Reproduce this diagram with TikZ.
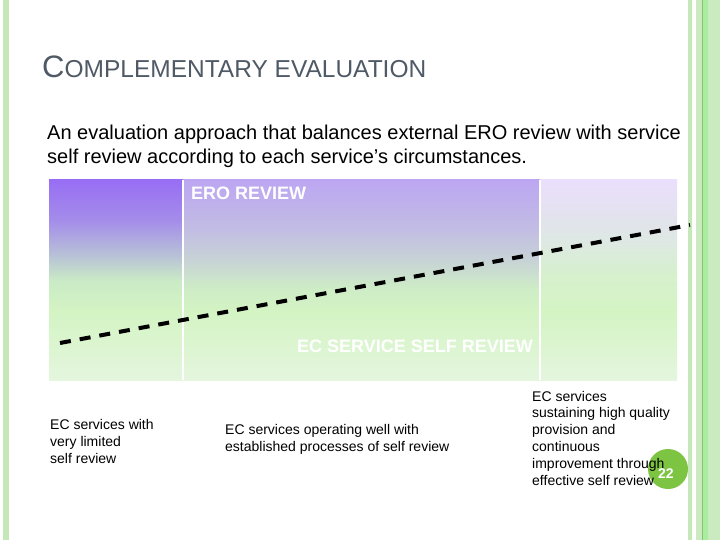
\documentclass[tikz,border=0pt]{standalone}
\usepackage{fontspec}
\setmainfont{Liberation Sans}
\usetikzlibrary{calc}
\definecolor{titlegray}{HTML}{4F5A66}
\definecolor{stripe}{HTML}{C6E8B8}
\definecolor{stripedark}{HTML}{8DC271}
\definecolor{pagegreen}{HTML}{7DC443}
\pgfdeclareverticalshading{colA}{100bp}{%
  color(0bp)=(rgb,255:red,228;green,246;blue,222); color(25bp)=(rgb,255:red,228;green,246;blue,222);
  color(42bp)=(rgb,255:red,212;green,244;blue,196); color(50bp)=(rgb,255:red,202;green,234;blue,198);
  color(56bp)=(rgb,255:red,184;green,194;blue,214); color(65bp)=(rgb,255:red,164;green,140;blue,234);
  color(75bp)=(rgb,255:red,152;green,110;blue,244); color(100bp)=(rgb,255:red,152;green,110;blue,244)}
\pgfdeclareverticalshading{colB}{100bp}{%
  color(0bp)=(rgb,255:red,228;green,246;blue,222); color(25bp)=(rgb,255:red,228;green,246;blue,222);
  color(42bp)=(rgb,255:red,212;green,244;blue,196); color(48bp)=(rgb,255:red,206;green,236;blue,198);
  color(54bp)=(rgb,255:red,200;green,214;blue,212); color(63bp)=(rgb,255:red,194;green,188;blue,228);
  color(75bp)=(rgb,255:red,188;green,166;blue,242); color(100bp)=(rgb,255:red,188;green,166;blue,242)}
\pgfdeclareverticalshading{colC}{100bp}{%
  color(0bp)=(rgb,255:red,228;green,246;blue,222); color(25bp)=(rgb,255:red,228;green,246;blue,222);
  color(42bp)=(rgb,255:red,212;green,244;blue,196); color(52bp)=(rgb,255:red,214;green,240;blue,206);
  color(60bp)=(rgb,255:red,222;green,232;blue,228); color(67bp)=(rgb,255:red,228;green,226;blue,240);
  color(75bp)=(rgb,255:red,234;green,223;blue,252); color(100bp)=(rgb,255:red,234;green,223;blue,252)}
\tikzset{
  bodytext/.style={anchor=base west, inner sep=0pt, align=left, font=\fontsize{20}{24}\selectfont},
  smalltext/.style={anchor=base west, inner sep=0pt, align=left, font=\fontsize{14}{16.8}\selectfont},
  chartlabel/.style={inner sep=0pt, text=white, font=\fontsize{18}{20}\selectfont\bfseries},
  divider/.style={white, line width=2pt},
  trend/.style={black, line width=4pt, dash pattern=on 11pt off 9pt},
}
\begin{document}
\begin{tikzpicture}[x=1pt,y=-1pt]
\useasboundingbox (0,0) rectangle (720,540);
\fill[white] (0,0) rectangle (720,540);
% decorative stripes
\fill[stripe] (3,0) rectangle (9,540);
\fill[stripe] (688,0) rectangle (692,540);
\fill[stripe!90!white] (696,0) rectangle (720,540);
\fill[stripe!80!green!90!white] (703,0) rectangle (708,540);
\draw[stripedark, line width=1pt] (702,0) -- (702,540);
% title
\node[anchor=base west, inner sep=0pt, text=titlegray] (title) at (42,78)
  {\fontsize{31}{32}\selectfont C\fontsize{24.5}{26}\selectfont OMPLEMENTARY EVALUATION};
% body text (base = last line)
\node[bodytext] (intro) at (47,164)
  {An evaluation approach that balances external ERO review with service\\self review according to each service's circumstances.};
% chart columns
\shade[shading=colA] (49,180) rectangle (183,380);
\shade[shading=colB] (183,180) rectangle (540,380);
\shade[shading=colC] (540,180) rectangle (677,380);
\draw[divider] (183,180) -- (183,380);
\draw[divider] (540,180) -- (540,380);
\node[chartlabel, anchor=base west] (ero) at (191,200) {ERO REVIEW};
\node[chartlabel, anchor=base east] (self) at (533,352) {EC SERVICE SELF REVIEW};
% trend line
\coordinate (tstart) at (60,343);
\coordinate (tend) at (690,225);
\draw[trend] (tstart) -- (tend);
% bottom labels (base = last line)
\node[smalltext] (lowlab) at (50,463) {EC services with\\very limited\\self review};
\node[smalltext] (midlab) at (225,451) {EC services operating well with\\established processes of self review};
% page number
\fill[pagegreen] (668,469) circle (20);
\node[smalltext] (highlab) at (532,485) {EC services\\sustaining high quality\\provision and\\continuous\\improvement through\\effective self review};
\node[inner sep=0pt, text=white, font=\fontsize{14}{14}\selectfont\bfseries, anchor=base west] (pnum) at (658,478) {22};
\end{tikzpicture}
\end{document}
